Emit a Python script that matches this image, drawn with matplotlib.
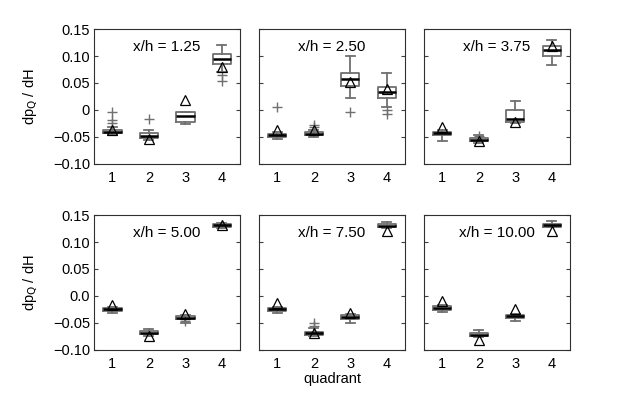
"""Box plots of dp_Q/dH per quadrant at six streamwise stations."""

import matplotlib
matplotlib.use("Agg")
import matplotlib.pyplot as plt

plt.rcParams['font.family'] = ['Liberation Sans', 'DejaVu Sans']
plt.rcParams['font.size'] = 10.5

stations = ["1.25", "2.50", "3.75", "5.00", "7.50", "10.00"]
quadrants = [1, 2, 3, 4]

# box statistics per station, one value per quadrant
medians = [[-0.040, -0.048, -0.011, 0.095],
           [-0.047, -0.044, 0.057, 0.033],
           [-0.043, -0.055, -0.017, 0.112],
           [-0.025, -0.068, -0.040, 0.131],
           [-0.025, -0.069, -0.039, 0.130],
           [-0.023, -0.072, -0.038, 0.131]]
q1 = [[-0.043, -0.052, -0.022, 0.086],
      [-0.050, -0.047, 0.045, 0.023],
      [-0.046, -0.058, -0.022, 0.101],
      [-0.028, -0.071, -0.043, 0.128],
      [-0.028, -0.072, -0.042, 0.127],
      [-0.026, -0.075, -0.041, 0.128]]
q3 = [[-0.037, -0.043, -0.003, 0.103],
      [-0.044, -0.041, 0.068, 0.042],
      [-0.040, -0.052, -0.001, 0.119],
      [-0.022, -0.065, -0.037, 0.134],
      [-0.022, -0.066, -0.036, 0.133],
      [-0.019, -0.069, -0.035, 0.134]]
whislo = [[-0.046, -0.056, -0.026, 0.070],
          [-0.053, -0.050, 0.022, 0.005],
          [-0.058, -0.061, -0.025, 0.083],
          [-0.031, -0.075, -0.050, 0.126],
          [-0.032, -0.074, -0.050, 0.126],
          [-0.029, -0.077, -0.047, 0.127]]
whishi = [[-0.032, -0.037, -0.003, 0.120],
          [-0.040, -0.038, 0.100, 0.068],
          [-0.037, -0.046, 0.017, 0.129],
          [-0.020, -0.062, -0.035, 0.136],
          [-0.020, -0.060, -0.034, 0.138],
          [-0.017, -0.064, -0.033, 0.139]]
fliers = [[[-0.003, -0.018, -0.025], [-0.017], [], [0.064, 0.053]],
          [[0.006], [-0.028, -0.032], [-0.003], [0.000, -0.008]],
          [[], [-0.049], [], []],
          [[], [], [-0.047], []],
          [[], [-0.051, -0.055], [], []],
          [[], [], [], []]]
# triangle markers (mean values)
means = [[-0.037, -0.053, 0.018, 0.080],
         [-0.037, -0.037, 0.051, 0.039],
         [-0.032, -0.058, -0.023, 0.118],
         [-0.016, -0.075, -0.033, 0.131],
         [-0.013, -0.069, -0.032, 0.121],
         [-0.009, -0.082, -0.025, 0.121]]

yticks = [-0.10, -0.05, 0.0, 0.05, 0.10, 0.15]
ylabels_top = ["\u22120.10", "\u22120.05", "0", "0.05", "0.10", "0.15"]
ylabels_bot = ["\u22120.10", "\u22120.05", "0.0", "0.05", "0.10", "0.15"]

fig, axes = plt.subplots(2, 3, figsize=(6.32, 4.04), dpi=100)
fig.subplots_adjust(left=0.149, right=0.902, top=0.928, bottom=0.134,
                    wspace=0.13, hspace=0.38)

grey = "#707070"
for k, ax in enumerate(axes.flat):
    stats = []
    for j in range(4):
        stats.append(dict(med=medians[k][j], q1=q1[k][j], q3=q3[k][j],
                          whislo=whislo[k][j], whishi=whishi[k][j],
                          fliers=fliers[k][j]))
    ax.bxp(stats, positions=quadrants, widths=0.5, showfliers=True,
           boxprops=dict(color=grey, lw=1.3),
           whiskerprops=dict(color=grey, lw=1.3),
           capprops=dict(color=grey, lw=1.3),
           medianprops=dict(color="black", lw=1.8),
           flierprops=dict(marker="+", markeredgecolor=grey, markersize=7,
                           linestyle="none"))
    ax.plot(quadrants, means[k], "^", mfc="none", mec="black", ms=7.5, mew=0.9)

    ax.set_xlim(0.5, 4.5)
    ax.set_ylim(-0.10, 0.15)
    ax.set_xticks(quadrants)
    ax.set_xticklabels([str(q) for q in quadrants])
    ax.set_yticks(yticks)
    if k % 3 == 0:
        ax.set_yticklabels(ylabels_top if k < 3 else ylabels_bot)
        ax.set_ylabel(r"dp$_\mathrm{Q}$ / dH", labelpad=9)
    else:
        ax.set_yticklabels([])
    ax.tick_params(axis="y", direction="in", right=True, length=3,
                   color="#404040", pad=3)
    ax.tick_params(axis="x", length=0, pad=5)
    for s in ax.spines.values():
        s.set_color("#303030")
        s.set_linewidth(0.8)
    ax.text(0.50, 0.87, "x/h = " + stations[k], transform=ax.transAxes,
            ha="center", va="center", fontsize=11)

axes[1, 1].set_xlabel("quadrant", labelpad=1)

fig.savefig("out.png", dpi=100)
